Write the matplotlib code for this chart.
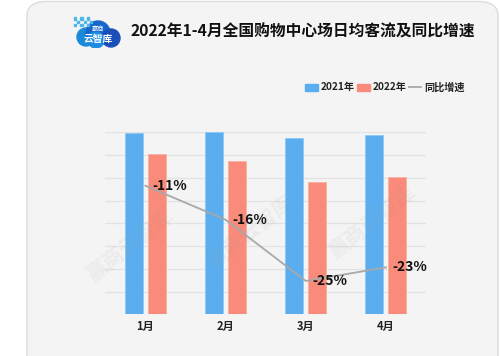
import matplotlib
matplotlib.use("Agg")
import matplotlib.pyplot as plt
from matplotlib.patches import FancyBboxPatch, Circle, Rectangle
import numpy as np

plt.rcParams['font.family'] = ['Noto Sans CJK SC', 'DejaVu Sans']

# ---- data ----
months = ["1月", "2月", "3月", "4月"]
flow_2021 = [7.96, 8.00, 7.75, 7.90]
flow_2022 = [7.06, 6.75, 5.82, 6.05]
yoy_growth = [-11, -16, -25, -23]
yoy_labels = ["-11%", "-16%", "-25%", "-23%"]
title = "2022年1-4月全国购物中心场日均客流及同比增速"
legend_labels = ["2021年", "2022年", "同比增速"]

W, H = 500, 356
fig = plt.figure(figsize=(W / 100, H / 100), dpi=100)
fig.patch.set_facecolor("white")

def fx(px):
    return px / W

def fy(py):
    return 1 - py / H

# card background
card = FancyBboxPatch((fx(27), fy(400)), fx(471), (400 - 1.5) / H,
                      boxstyle="round,pad=0,rounding_size=0.04",
                      transform=fig.transFigure, facecolor="#f4f4f4",
                      edgecolor="#dcdcdc", linewidth=1.0, zorder=-10)
fig.add_artist(card)

# ---- main axes ----
ax = fig.add_axes([fx(105), fy(314.3), fx(426 - 105), (314.3 - 132.3) / H])
ax.set_facecolor("none")
x = np.arange(len(months))
off = 0.143
bw = 0.225
blue = "#5aaef0"
red = "#fa8a7a"
ax.bar(x - off, flow_2021, width=bw, color=blue, edgecolor="#8cc8f5", linewidth=0.6, zorder=3, label=legend_labels[0])
ax.bar(x + off, flow_2022, width=bw, color=red, edgecolor="#fbb0a5", linewidth=0.6, zorder=3, label=legend_labels[1])
ax.set_xlim(-0.505, 3.5)
ax.set_ylim(0, 8)
ax.set_yticks(np.arange(0, 9, 1))
ax.yaxis.grid(True, color="#e2e2e2", linewidth=0.9, zorder=0)
ax.set_axisbelow(True)
ax.set_xticks(x)
ax.set_xticklabels(months, fontsize=8, fontweight="bold", color="#222222")
for s in ax.spines.values():
    s.set_visible(False)

# watermarks
for (wx, wy) in [(130, 245), (250, 232), (372, 222)]:
    fig.text(fx(wx), fy(wy), "赢商云智库", fontsize=15, fontweight="bold",
             color="#9a9a9a", alpha=0.10, rotation=38, ha="center", va="center", zorder=1)

ax2 = ax.twinx()
ax2.set_facecolor("none")
ax2.plot(x, yoy_growth, color="#a8a8a8", linewidth=1.3, zorder=4, label=legend_labels[2])
ax2.set_ylim(-29.9, -3.14)
ax2.set_xlim(-0.505, 3.5)
ax2.axis("off")
for xi, yi, lab in zip(x, yoy_growth, yoy_labels):
    ax2.annotate(lab, (xi, yi), xytext=(5, 0), textcoords="offset points",
                 ha="left", va="center", fontsize=10, fontweight="bold",
                 color="#111111", zorder=6)

ax.tick_params(axis="y", which="both", left=False, right=False, labelleft=False, labelright=False, length=0)
ax.tick_params(axis="x", bottom=False, pad=4, length=0)

# ---- title ----
fig.text(fx(303), fy(31.5), title, fontsize=11.3, fontweight="bold",
         color="#111111", ha="center", va="center")

# ---- logo ----
lax = fig.add_axes([fx(68), fy(48), fx(55), 34 / H])
lax.set_xlim(0, 55)
lax.set_ylim(0, 34)
lax.axis("off")
for (cx, cy, r, c) in [(18, 11, 9, "#1a8ad8"), (30, 15, 12, "#1766c9"),
                        (43, 10, 9, "#1b4fb8"), (28, 8, 8, "#1d8be0")]:
    lax.add_patch(Circle((cx, cy), r, color=c, zorder=2))
for i in range(6):
    for j in range(3):
        if (i + j) % 2 == 0:
            lax.add_patch(Rectangle((6 + i * 3.2, 22 + j * 3.2), 2.2, 2.2, color="#4fb6ec", zorder=3))
lax.text(30, 19, "赢商", fontsize=4.5, color="white", ha="center", va="center", zorder=4)
lax.text(30, 9, "云智库", fontsize=7, fontweight="bold", color="white", ha="center", va="center", style="italic", zorder=4)

# ---- legend ----
ly = fy(87.3)
lfs = 7.3
fig.add_artist(Rectangle((fx(305), ly - 3.5 / H), fx(13), 7 / H, transform=fig.transFigure, color=blue))
fig.text(fx(321), ly, legend_labels[0], fontsize=lfs, fontweight="bold", color="#222222", ha="left", va="center")
fig.add_artist(Rectangle((fx(357), ly - 3.5 / H), fx(13), 7 / H, transform=fig.transFigure, color=red))
fig.text(fx(373), ly, legend_labels[1], fontsize=lfs, fontweight="bold", color="#222222", ha="left", va="center")
fig.add_artist(plt.Line2D([fx(409), fx(421)], [ly, ly], transform=fig.transFigure, color="#a8a8a8", linewidth=1.3))
fig.text(fx(424), ly, legend_labels[2], fontsize=lfs, fontweight="bold", color="#222222", ha="left", va="center")

fig.savefig("out.png", dpi=100, facecolor=fig.get_facecolor())
